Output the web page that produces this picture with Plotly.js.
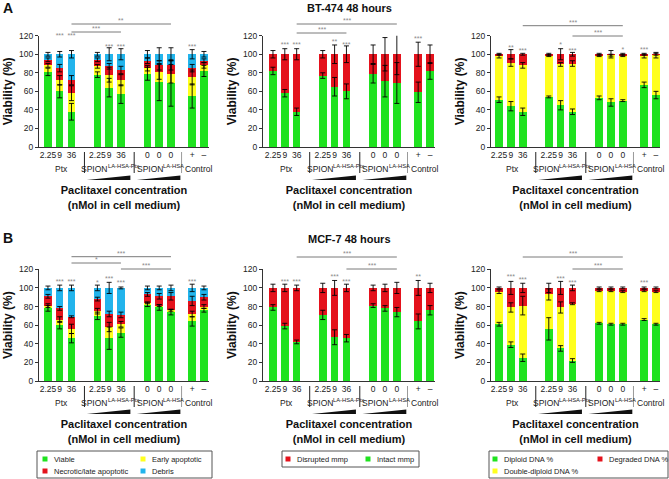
<!DOCTYPE html>
<html>
<head>
<meta charset="utf-8">
<script src="https://cdn.plot.ly/plotly-3.0.1.min.js"></script>
<style>html,body{margin:0;padding:0;background:#fff;}</style>
</head>
<body>
<div id="chart" style="width:669px;height:479px;"></div>
<script>
// ---------------- DATA ----------------
const doseLabels = ['2.25', '9', '36', '2.25', '9', '36', '0', '0', '0', '+', '\u2013'];
const groupMain = ['Ptx', 'SPION', 'SPION', 'Control'];
const groupSup = ['', 'LA-HSA-Ptx', 'LA-HSA', ''];
const barGroup = [0, 0, 0, 1, 1, 1, 2, 2, 2, 3, 3];
const barSlot = [0, 1, 2, 0, 1, 2, 0, 1, 2, 0, 1];

// BT-474, annexin assay (%)
const bt474Viable = [81, 60, 38, 78, 64, 57, 79, 70, 69, 55, 82];
const bt474Early = [7, 12, 20, 9, 14, 15, 6, 11, 10, 20, 6];
const bt474Necrotic = [6, 13, 14, 7, 9, 11, 8, 7, 9, 10, 5];
const bt474Debris = [6, 15, 28, 6, 13, 17, 7, 12, 12, 15, 7];
const bt474ViableErr = [4, 7, 9, 3, 10, 10, 7, 20, 25, 13, 6];
const bt474EarlyErr = [2, 5, 8, 2, 8, 6, 3, 8, 10, 8, 3];
const bt474NecroticErr = [2, 4, 5, 2, 3, 4, 3, 5, 5, 4, 2];
const bt474DebrisErr = [2, 3, 4, 2, 7, 6, 4, 7, 7, 5, 3];

// BT-474, mitochondrial membrane potential (%)
const bt474Intact = [82, 58, 38, 77, 65, 60, 79, 71, 69, 59, 82];
const bt474Disrupted = [18, 42, 62, 23, 35, 40, 21, 29, 31, 41, 18];
const bt474IntactErr = [4, 4, 4, 3, 10, 8, 10, 17, 22, 11, 9];
const bt474DisruptedErr = [4, 6, 6, 4, 10, 9, 10, 18, 22, 13, 10];

// BT-474, DNA content (%)
const bt474Diploid = [51, 44, 38, 54, 45, 38, 53, 48, 50, 67, 56];
const bt474Double = [47, 47, 50, 44.5, 44, 52, 45.5, 51, 48.5, 31, 43];
const bt474Degraded = [2, 9, 12, 1.5, 11, 10, 1.5, 1, 1.5, 2, 1];
const bt474DiploidErr = [3, 5, 4, 1, 5, 3, 2, 4, 1, 3, 4];
const bt474DoubleErr = [2, 4, 3, 1, 2, 3, 1, 1, 1, 2, 3];
const bt474DegradedErr = [1, 5, 1, 1, 6, 2, 1, 4, 1, 1, 1];

// MCF-7, annexin assay (%)
const mcf7Viable = [78, 60, 46, 70, 46, 52, 82, 79, 74, 64, 76];
const mcf7Early = [3, 6, 10, 5, 12, 9, 2, 2, 2, 8, 4];
const mcf7Necrotic = [10, 12, 13, 13, 14, 10, 9, 10, 15, 14, 10];
const mcf7Debris = [9, 22, 31, 12, 28, 29, 7, 9, 9, 14, 10];
const mcf7ViableErr = [3, 4, 5, 4, 12, 5, 2, 3, 3, 5, 2];
const mcf7EarlyErr = [2, 3, 5, 3, 5, 3, 1, 1, 1, 3, 2];
const mcf7NecroticErr = [2, 2, 1, 2, 3, 3, 2, 3, 4, 5, 3];
const mcf7DebrisErr = [2, 3, 3, 3, 6, 1, 2, 2, 3, 4, 2];

// MCF-7, mitochondrial membrane potential (%)
const mcf7Intact = [79, 59, 42, 71, 47, 46, 81, 78, 74, 64, 76];
const mcf7Disrupted = [21, 41, 58, 29, 53, 54, 19, 22, 26, 36, 24];
const mcf7IntactErr = [3, 3, 2, 5, 8, 4, 2, 3, 5, 8, 5];
const mcf7DisruptedErr = [4, 4, 3, 5, 8, 4, 3, 4, 6, 8, 5];

// MCF-7, DNA content (%)
const mcf7Diploid = [61, 39, 25, 56, 35, 22, 62, 61, 61, 66, 61];
const mcf7Double = [35, 40, 56, 37, 44, 61, 35, 36, 35, 31, 35];
const mcf7Degraded = [4, 21, 19, 7, 21, 17, 3, 3, 4, 3, 4];
const mcf7DiploidErr = [2, 3, 4, 12, 3, 2, 1, 1, 1, 1, 1];
const mcf7DoubleErr = [2, 5, 10, 6, 6, 1, 1, 1, 1, 1, 1];
const mcf7DegradedErr = [1, 7, 5, 5, 7, 3, 1, 1, 1, 1, 1];

// significance marks above bars: bar index, label, height (%)
const sigA1Idx = [1, 2, 4, 5, 9];    const sigA1Text = ['***', '***', '***', '***', '***'];    const sigA1Y = [119, 119, 108, 108, 108];
const sigA2Idx = [1, 2, 4, 5, 9];    const sigA2Text = ['***', '***', '**', '***', '***'];     const sigA2Y = [110, 110, 113, 110, 116];
const sigA3Idx = [1, 2, 4, 5, 8, 9]; const sigA3Text = ['**', '***', '*', '***', '*', '***']; const sigA3Y = [106, 103, 110, 103, 104, 104];
const sigB1Idx = [1, 2, 3, 4, 5, 9]; const sigB1Text = ['***', '***', '*', '***', '***', '***']; const sigB1Y = [106, 106, 105.5, 109, 105.5, 106];
const sigB2Idx = [1, 2, 4, 5, 9];    const sigB2Text = ['***', '***', '***', '***', '**'];     const sigB2Y = [106.5, 106.5, 111, 106.5, 111];
const sigB3Idx = [1, 2, 4, 5, 9];    const sigB3Text = ['***', '***', '***', '***', '***'];    const sigB3Y = [111, 108, 109, 105.5, 105.5];

// comparison brackets: [from bar, to bar, label]
const brA1 = [[2, 8, '**'], [2, 5, '***']];
const brA2 = [[2, 8, '***'], [2, 5, '***']];
const brA3 = [[2, 8, '***'], [5, 8, '***']];
const brB1 = [[2, 8, '***'], [2, 5, '*'], [5, 8, '***']];
const brB2 = [[2, 8, '***'], [5, 8, '***']];
const brB3 = [[2, 8, '***'], [5, 8, '***']];

// legend labels
const annexinNames = ['Viable', 'Early apoptotic', 'Necrotic/late apoptotic', 'Debris'];
const mmpNames = ['Intact mmp', 'Disrupted mmp'];
const dnaNames = ['Diploid DNA %', 'Double-diploid DNA %', 'Degraded DNA %'];

// ---------------- STYLE / LAYOUT ----------------
const W = 669, H = 479;
const FONT = 'Liberation Sans, Arial, Helvetica, sans-serif';
const C = {green: '#1fe21f', yellow: '#ffff1e', red: '#e4121c', blue: '#22b4ec'};
const groupOffset = [0, 4.2, 8.45, 12.25];
const xPos = barGroup.map((g, i) => groupOffset[g] + barSlot[i]);
const colDomPx = [[39, 209], [263, 435], [491, 660]];
const colRange = [[-0.76, 13.68], [-0.84, 13.67], [-0.68, 13.59]];
const rowDomPx = [[35.7, 147], [269.3, 381]];
const bracketLevelPx = [
  [[24, 32], [24, 33], [25.7, 36]],
  [[256.7, 263, 269], [257, 269], [257, 269]]
];
const sepColors = ['#222', '#222', '#9a9a9a'];
const GL_SIZE = 8.5, SUP_SIZE = 5.8;
const px2x = p => p / W;
const px2y = p => 1 - p / H;
const mctx = document.createElement('canvas').getContext('2d');
function textW(t, size) {
  mctx.font = size + 'px "Liberation Sans", Arial, sans-serif';
  return mctx.measureText(t).width;
}

function mk(names, vals, errs, cols) {
  return names.map((n, i) => ({name: n, y: vals[i], err: errs[i], color: cols[i]}));
}
const panels = [
  {row: 0, col: 0, series: mk(annexinNames, [bt474Viable, bt474Early, bt474Necrotic, bt474Debris], [bt474ViableErr, bt474EarlyErr, bt474NecroticErr, bt474DebrisErr], [C.green, C.yellow, C.red, C.blue]), sig: [sigA1Idx, sigA1Text, sigA1Y], br: brA1},
  {row: 0, col: 1, series: mk(mmpNames, [bt474Intact, bt474Disrupted], [bt474IntactErr, bt474DisruptedErr], [C.green, C.red]), sig: [sigA2Idx, sigA2Text, sigA2Y], br: brA2},
  {row: 0, col: 2, series: mk(dnaNames, [bt474Diploid, bt474Double, bt474Degraded], [bt474DiploidErr, bt474DoubleErr, bt474DegradedErr], [C.green, C.yellow, C.red]), sig: [sigA3Idx, sigA3Text, sigA3Y], br: brA3},
  {row: 1, col: 0, series: mk(annexinNames, [mcf7Viable, mcf7Early, mcf7Necrotic, mcf7Debris], [mcf7ViableErr, mcf7EarlyErr, mcf7NecroticErr, mcf7DebrisErr], [C.green, C.yellow, C.red, C.blue]), sig: [sigB1Idx, sigB1Text, sigB1Y], br: brB1},
  {row: 1, col: 1, series: mk(mmpNames, [mcf7Intact, mcf7Disrupted], [mcf7IntactErr, mcf7DisruptedErr], [C.green, C.red]), sig: [sigB2Idx, sigB2Text, sigB2Y], br: brB2},
  {row: 1, col: 2, series: mk(dnaNames, [mcf7Diploid, mcf7Double, mcf7Degraded], [mcf7DiploidErr, mcf7DoubleErr, mcf7DegradedErr], [C.green, C.yellow, C.red]), sig: [sigB3Idx, sigB3Text, sigB3Y], br: brB3}
];

const traces = [];
const layout = {
  width: W, height: H,
  margin: {l: 0, r: 0, t: 0, b: 0},
  paper_bgcolor: '#ffffff', plot_bgcolor: 'rgba(0,0,0,0)',
  font: {family: FONT, size: 8.5, color: '#222'},
  barmode: 'stack', showlegend: false, hovermode: false,
  shapes: [], annotations: []
};

panels.forEach((p, k) => {
  const n = k + 1;
  const xa = n === 1 ? 'xaxis' : 'xaxis' + n;
  const ya = n === 1 ? 'yaxis' : 'yaxis' + n;
  const xr = n === 1 ? 'x' : 'x' + n;
  const yr = n === 1 ? 'y' : 'y' + n;
  const [l, r] = colDomPx[p.col];
  const [t, b] = rowDomPx[p.row];

  layout[xa] = {
    domain: [l / W, r / W], range: colRange[p.col], anchor: yr,
    showline: true, linecolor: '#333', linewidth: 1, ticks: '', showgrid: false, zeroline: false,
    tickmode: 'array', tickvals: xPos, ticktext: doseLabels, tickangle: 0, tickfont: {size: 8.5, color: '#222'},
    title: {text: 'Paclitaxel concentration<br>(nMol in cell medium)', font: {size: 11, weight: 'bold', color: '#111'}, standoff: 27}
  };
  layout[ya] = {
    domain: [1 - b / H, 1 - t / H], range: [0, 120], anchor: xr,
    tick0: 0, dtick: 20, ticks: 'outside', ticklen: 3, tickwidth: 1, tickcolor: '#333',
    showline: true, linecolor: '#333', linewidth: 1, showgrid: false, zeroline: false,
    tickfont: {size: 8.5, color: '#222'},
    title: {text: 'Viability (%)', font: {size: 12, weight: 'bold', color: '#111'}, standoff: 3}
  };

  // stacked bars
  const cum = new Array(xPos.length).fill(0);
  const errTraces = [];
  p.series.forEach(s => {
    traces.push({type: 'bar', x: xPos, y: s.y, width: 0.64, name: s.name,
      marker: {color: s.color, line: {width: 0}}, xaxis: xr, yaxis: yr, hoverinfo: 'skip', showlegend: false});
    const tops = s.y.map((v, i) => (cum[i] += v));
    errTraces.push({type: 'scatter', mode: 'markers', x: xPos, y: tops.slice(), name: s.name + ' error',
      marker: {size: 1, opacity: 0}, xaxis: xr, yaxis: yr, hoverinfo: 'skip', showlegend: false, cliponaxis: false,
      error_y: {type: 'data', array: s.err, visible: true, color: '#000', thickness: 0.9, width: 2.5}});
  });
  errTraces.forEach(e => traces.push(e));

  // significance stars
  const [sIdx, sTxt, sY] = p.sig;
  traces.push({type: 'scatter', mode: 'text', x: sIdx.map(i => xPos[i]), y: sY, text: sTxt,
    textposition: 'middle center', textfont: {size: 7, color: '#8a8a8a', family: FONT},
    xaxis: xr, yaxis: yr, hoverinfo: 'skip', showlegend: false, cliponaxis: false});

  // comparison brackets
  p.br.forEach((br, j) => {
    const yv = px2y(bracketLevelPx[p.row][p.col][j]);
    layout.shapes.push({type: 'line', xref: xr, yref: 'paper', x0: xPos[br[0]], x1: xPos[br[1]], y0: yv, y1: yv,
      line: {color: '#7a7a7a', width: 1}});
    layout.annotations.push({xref: xr, yref: 'paper', x: (xPos[br[0]] + xPos[br[1]]) / 2, y: yv, yanchor: 'bottom',
      yshift: -2, text: br[2], showarrow: false, font: {size: 7, color: '#8a8a8a'}});
  });

  // group separators, group labels (with superscripts), wedges
  for (let g = 0; g < groupMain.length; g++) {
    const members = xPos.filter((v, i) => barGroup[i] === g);
    const first = members[0], last = members[members.length - 1];
    const cx = (first + last) / 2;
    const w1 = textW(groupMain[g], GL_SIZE);
    const w2 = groupSup[g] ? textW(groupSup[g], SUP_SIZE) : 0;
    const start = -(w1 + w2) / 2;
    const yLab = px2y(b + 22);
    layout.annotations.push({xref: xr, yref: 'paper', x: cx, y: yLab, xanchor: 'left', yanchor: 'middle', xshift: start,
      text: groupMain[g], showarrow: false, borderpad: 0, font: {size: GL_SIZE, color: '#222'}});
    if (groupSup[g]) {
      layout.annotations.push({xref: xr, yref: 'paper', x: cx, y: yLab, xanchor: 'left', yanchor: 'middle', xshift: start + w1, yshift: 3.2,
        text: groupSup[g], showarrow: false, borderpad: 0, font: {size: SUP_SIZE, color: '#222'}});
    }
    if (g < groupMain.length - 1) {
      const nextFirst = xPos[barGroup.indexOf(g + 1)];
      const sx = (last + nextFirst) / 2;
      layout.shapes.push({type: 'line', xref: xr, yref: 'paper', x0: sx, x1: sx, y0: px2y(b + 5), y1: px2y(b + 26),
        line: {color: sepColors[g], width: 1}});
    }
    if (g === 1 || g === 2) {
      const x0 = first - 0.9, x1 = last + 0.8;
      const yb = px2y(b + 33), yt = px2y(b + 28.5);
      layout.shapes.push({type: 'path', xref: xr, yref: 'paper',
        path: `M${x0},${yb} L${x1},${yb} L${x1},${yt} Z`, fillcolor: '#111', line: {width: 0}});
    }
  }
});

// panel titles and letters
layout.annotations.push({xref: 'paper', yref: 'paper', x: px2x(349), y: px2y(8), text: 'BT-474 48 hours', showarrow: false,
  font: {size: 11, weight: 'bold', color: '#111'}, yanchor: 'middle'});
layout.annotations.push({xref: 'paper', yref: 'paper', x: px2x(349), y: px2y(239), text: 'MCF-7 48 hours', showarrow: false,
  font: {size: 11, weight: 'bold', color: '#111'}, yanchor: 'middle'});
layout.annotations.push({xref: 'paper', yref: 'paper', x: px2x(1), y: px2y(8), xanchor: 'left', yanchor: 'middle', text: 'A', showarrow: false,
  font: {size: 14, weight: 'bold', color: '#111'}});
layout.annotations.push({xref: 'paper', yref: 'paper', x: px2x(1), y: px2y(238), xanchor: 'left', yanchor: 'middle', text: 'B', showarrow: false,
  font: {size: 14, weight: 'bold', color: '#111'}});

// legends (boxes with colour keys)
const legendBoxes = [
  {box: [37, 451, 212, 478], items: [
    {name: annexinNames[0], color: C.green, x: 45, y: 459}, {name: annexinNames[1], color: C.yellow, x: 143, y: 459},
    {name: annexinNames[2], color: C.red, x: 45, y: 471}, {name: annexinNames[3], color: C.blue, x: 143, y: 471}]},
  {box: [282, 451, 419, 467], items: [
    {name: mmpNames[1], color: C.red, x: 288, y: 459}, {name: mmpNames[0], color: C.green, x: 368, y: 459}]},
  {box: [489, 451, 668, 478], items: [
    {name: dnaNames[0], color: C.green, x: 495, y: 459}, {name: dnaNames[2], color: C.red, x: 600, y: 459},
    {name: dnaNames[1], color: C.yellow, x: 495, y: 471}]}
];
legendBoxes.forEach(lb => {
  const [x0, y0, x1, y1] = lb.box;
  layout.shapes.push({type: 'rect', xref: 'paper', yref: 'paper', x0: px2x(x0), x1: px2x(x1), y0: px2y(y1), y1: px2y(y0),
    line: {color: '#555', width: 1}, fillcolor: 'rgba(0,0,0,0)'});
  lb.items.forEach(it => {
    layout.shapes.push({type: 'rect', xref: 'paper', yref: 'paper', x0: px2x(it.x - 2.5), x1: px2x(it.x + 2.5),
      y0: px2y(it.y + 2.5), y1: px2y(it.y - 2.5), line: {width: 0}, fillcolor: it.color});
    layout.annotations.push({xref: 'paper', yref: 'paper', x: px2x(it.x + 7), y: px2y(it.y), xanchor: 'left', yanchor: 'middle',
      text: it.name, showarrow: false, font: {size: 7.5, color: '#222'}});
  });
});

Plotly.newPlot('chart', traces, layout, {staticPlot: true, displayModeBar: false});
</script>
</body>
</html>
